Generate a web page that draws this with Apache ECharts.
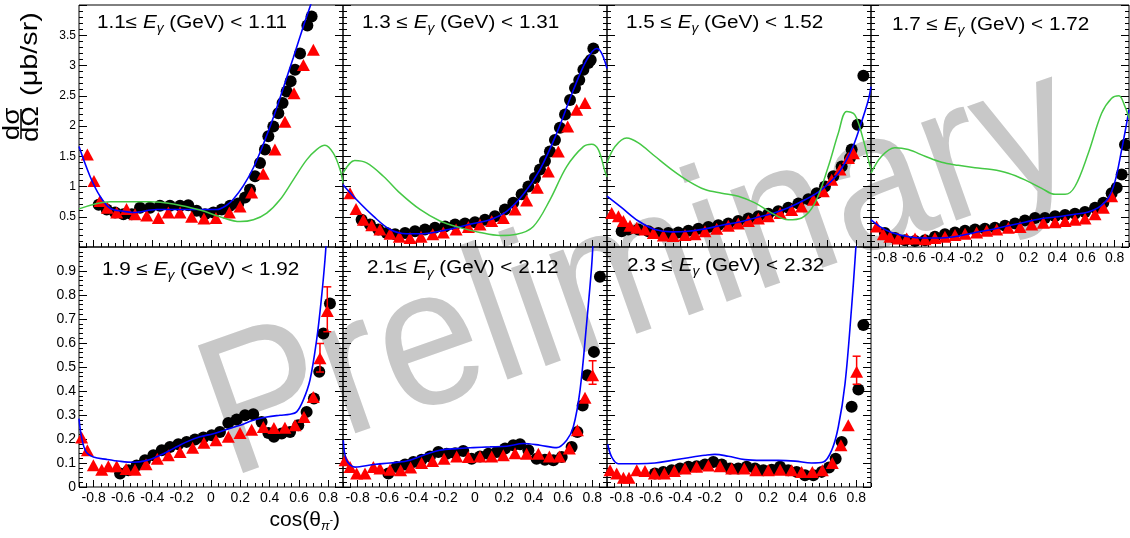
<!DOCTYPE html>
<html>
<head>
<meta charset="utf-8">
<script src="https://cdn.jsdelivr.net/npm/echarts@6.0.0/dist/echarts.min.js"></script>
<style>
html, body { margin: 0; padding: 0; background: #fff; }
#chart { width: 1130px; height: 538px; }
</style>
</head>
<body>
<div id="chart"></div>
<script>
// photon energy bins, one per pad
const eLow = ['1.1', '1.3', '1.5', '1.7', '1.9', '2.1', '2.3'];
const eHigh = ['1.11', '1.31', '1.52', '1.72', '1.92', '2.12', '2.32'];
const eSep = ['≤ ', ' ≤ ', ' ≤ ', ' ≤ ', ' ≤ ', '≤ ', ' ≤ '];

const xTicks = [-0.8, -0.6, -0.4, -0.2, 0, 0.2, 0.4, 0.6, 0.8];

// pad 1.1 GeV
const circ11 = [[-0.766,0.70],[-0.711,0.62],[-0.654,0.57],[-0.597,0.54],[-0.540,0.54],[-0.484,0.65],[-0.416,0.65],[-0.348,0.68],[-0.280,0.68],[-0.211,0.68],[-0.155,0.69],[-0.098,0.60],[-0.041,0.54],[0.016,0.57],[0.073,0.62],[0.130,0.68],[0.186,0.72],[0.232,0.82],[0.266,0.95],[0.300,1.17],[0.334,1.39],[0.368,1.61],[0.391,1.83],[0.425,1.99],[0.459,2.21],[0.488,2.38],[0.516,2.57],[0.543,2.74],[0.573,2.93],[0.607,3.20],[0.657,3.66],[0.686,3.81]];
const tri11 = [[-0.843,1.53],[-0.798,1.09],[-0.757,0.76],[-0.707,0.65],[-0.643,0.57],[-0.576,0.63],[-0.518,0.54],[-0.438,0.52],[-0.359,0.48],[-0.291,0.57],[-0.211,0.57],[-0.132,0.50],[-0.048,0.47],[0.034,0.48],[0.125,0.57],[0.198,0.67],[0.277,0.90],[0.356,1.21],[0.436,1.61],[0.504,2.07],[0.566,2.54],[0.630,3.01],[0.698,3.26]];
const blue11 = [[-0.9,1.66],[-0.825,1.17],[-0.757,0.84],[-0.688,0.64],[-0.598,0.59],[-0.530,0.57],[-0.370,0.62],[-0.189,0.62],[0.039,0.62],[0.107,0.69],[0.152,0.79],[0.220,1.01],[0.289,1.31],[0.357,1.70],[0.425,2.14],[0.493,2.63],[0.561,3.13],[0.630,3.65],[0.675,3.97],[0.72,4.3]];
const green11 = [[-0.9,0.63],[-0.688,0.75],[-0.416,0.75],[-0.257,0.71],[-0.075,0.61],[0.061,0.50],[0.198,0.42],[0.289,0.45],[0.380,0.56],[0.470,0.78],[0.561,1.11],[0.652,1.44],[0.720,1.61],[0.777,1.68],[0.834,1.55],[0.880,1.28],[0.9,1.06]];

// pad 1.3 GeV
const circ12 = [[-0.773,0.45],[-0.716,0.37],[-0.659,0.29],[-0.602,0.23],[-0.545,0.21],[-0.477,0.23],[-0.409,0.26],[-0.341,0.29],[-0.273,0.32],[-0.204,0.34],[-0.136,0.37],[-0.068,0.39],[0.000,0.41],[0.068,0.45],[0.136,0.51],[0.204,0.62],[0.261,0.73],[0.318,0.87],[0.364,1.00],[0.409,1.14],[0.443,1.28],[0.477,1.42],[0.511,1.58],[0.545,1.77],[0.579,1.97],[0.614,2.19],[0.648,2.43],[0.682,2.63],[0.711,2.76],[0.739,2.93],[0.773,3.04],[0.789,3.09],[0.807,3.28]];
const tri12 = [[-0.852,0.89],[-0.811,0.63],[-0.761,0.45],[-0.704,0.36],[-0.648,0.29],[-0.579,0.22],[-0.516,0.17],[-0.443,0.15],[-0.368,0.17],[-0.288,0.21],[-0.216,0.24],[-0.129,0.29],[-0.045,0.33],[0.034,0.37],[0.114,0.43],[0.193,0.48],[0.273,0.62],[0.352,0.77],[0.425,0.98],[0.500,1.25],[0.568,1.58],[0.632,1.99],[0.693,2.27],[0.750,2.38]];
const blue12 = [[-0.9,1.03],[-0.807,0.78],[-0.693,0.51],[-0.579,0.29],[-0.466,0.22],[-0.352,0.22],[-0.239,0.26],[-0.125,0.32],[-0.011,0.39],[0.102,0.45],[0.216,0.59],[0.330,0.87],[0.443,1.28],[0.557,1.88],[0.670,2.59],[0.761,3.09],[0.830,3.28],[0.864,3.20],[0.9,2.95]];
const green12 = [[-0.9,1.22],[-0.82,1.43],[-0.739,1.39],[-0.625,1.17],[-0.511,0.89],[-0.375,0.62],[-0.239,0.43],[-0.102,0.32],[0.034,0.24],[0.170,0.19],[0.284,0.21],[0.398,0.34],[0.511,0.78],[0.625,1.33],[0.739,1.66],[0.795,1.70],[0.841,1.61],[0.886,1.25],[0.9,1.16]];

// pad 1.5 GeV
const circ13 = [[-0.800,0.26],[-0.755,0.29],[-0.686,0.29],[-0.618,0.26],[-0.550,0.23],[-0.482,0.23],[-0.414,0.24],[-0.345,0.27],[-0.277,0.30],[-0.209,0.33],[-0.141,0.36],[-0.073,0.39],[-0.005,0.43],[0.064,0.47],[0.132,0.51],[0.200,0.55],[0.268,0.59],[0.336,0.65],[0.405,0.72],[0.473,0.79],[0.530,0.89],[0.586,1.00],[0.643,1.17],[0.700,1.33],[0.757,1.47],[0.768,1.61],[0.809,2.02],[0.848,2.83]];
const tri13 = [[-0.868,0.56],[-0.822,0.51],[-0.788,0.43],[-0.743,0.35],[-0.697,0.32],[-0.641,0.29],[-0.584,0.23],[-0.516,0.19],[-0.448,0.18],[-0.368,0.20],[-0.300,0.21],[-0.232,0.26],[-0.152,0.30],[-0.073,0.35],[-0.005,0.39],[0.064,0.43],[0.132,0.47],[0.200,0.51],[0.280,0.56],[0.359,0.61],[0.427,0.67],[0.507,0.78],[0.575,0.92],[0.632,1.11],[0.689,1.28],[0.746,1.47],[0.780,1.55]];
const blue13 = [[-0.9,0.84],[-0.800,0.65],[-0.686,0.43],[-0.573,0.29],[-0.459,0.25],[-0.345,0.26],[-0.232,0.30],[-0.118,0.36],[-0.005,0.41],[0.109,0.48],[0.223,0.55],[0.336,0.65],[0.450,0.78],[0.564,0.95],[0.677,1.22],[0.768,1.61],[0.825,1.99],[0.882,2.43],[0.9,2.65]];
const green13 = [[-0.9,1.39],[-0.845,1.66],[-0.766,1.80],[-0.686,1.72],[-0.573,1.50],[-0.459,1.28],[-0.345,1.09],[-0.232,0.95],[-0.118,0.89],[-0.005,0.84],[0.109,0.73],[0.223,0.56],[0.336,0.45],[0.427,0.48],[0.518,0.73],[0.609,1.33],[0.677,1.88],[0.734,2.24],[0.791,2.18],[0.848,1.77],[0.882,1.44],[0.9,1.28]];

// pad 1.7 GeV
const circ14 = [[-0.803,0.23],[-0.733,0.15],[-0.663,0.11],[-0.593,0.10],[-0.523,0.11],[-0.454,0.17],[-0.384,0.21],[-0.314,0.24],[-0.244,0.27],[-0.174,0.29],[-0.105,0.30],[-0.035,0.32],[0.035,0.35],[0.105,0.39],[0.174,0.44],[0.244,0.48],[0.314,0.48],[0.384,0.51],[0.454,0.53],[0.523,0.55],[0.593,0.58],[0.663,0.65],[0.721,0.73],[0.779,0.89],[0.814,0.98],[0.849,1.20],[0.872,1.69]];
const tri14 = [[-0.861,0.34],[-0.814,0.21],[-0.768,0.17],[-0.710,0.14],[-0.651,0.14],[-0.593,0.14],[-0.523,0.13],[-0.454,0.15],[-0.384,0.17],[-0.314,0.20],[-0.244,0.22],[-0.163,0.24],[-0.093,0.27],[-0.023,0.29],[0.058,0.32],[0.140,0.33],[0.221,0.37],[0.302,0.40],[0.384,0.41],[0.454,0.43],[0.523,0.45],[0.593,0.47],[0.663,0.54],[0.721,0.65],[0.779,0.84]];
const blue14 = [[-0.9,0.45],[-0.826,0.32],[-0.756,0.24],[-0.640,0.17],[-0.523,0.15],[-0.407,0.15],[-0.291,0.18],[-0.174,0.24],[-0.058,0.29],[0.058,0.35],[0.174,0.41],[0.291,0.47],[0.407,0.50],[0.523,0.54],[0.616,0.58],[0.686,0.65],[0.756,0.81],[0.802,1.08],[0.849,1.61],[0.884,2.05],[0.9,2.27]];
const green14 = [[-0.9,1.22],[-0.826,1.50],[-0.733,1.64],[-0.640,1.61],[-0.523,1.50],[-0.407,1.40],[-0.291,1.35],[-0.174,1.31],[-0.058,1.28],[0.058,1.22],[0.174,1.11],[0.291,0.97],[0.384,0.87],[0.454,0.87],[0.523,1.00],[0.616,1.55],[0.709,2.21],[0.779,2.46],[0.830,2.50],[0.872,2.32],[0.9,2.13]];

// pad 1.9 GeV
const circ21 = [[-0.620,0.056],[-0.563,0.070],[-0.507,0.090],[-0.450,0.111],[-0.393,0.132],[-0.336,0.153],[-0.280,0.167],[-0.223,0.178],[-0.166,0.188],[-0.109,0.198],[-0.052,0.206],[0.005,0.216],[0.061,0.229],[0.118,0.267],[0.175,0.281],[0.232,0.299],[0.288,0.303],[0.345,0.271],[0.391,0.225],[0.429,0.209],[0.482,0.223],[0.539,0.229],[0.595,0.257],[0.652,0.313],[0.702,0.369],[0.738,0.480],[0.766,0.640],[0.811,0.765]];
const tri21 = [[-0.882,0.206],[-0.843,0.153],[-0.802,0.091],[-0.745,0.072],[-0.700,0.086],[-0.643,0.086],[-0.579,0.075],[-0.518,0.072],[-0.443,0.095],[-0.366,0.118],[-0.291,0.132],[-0.211,0.146],[-0.125,0.164],[-0.048,0.184],[0.034,0.195],[0.118,0.209],[0.198,0.225],[0.277,0.239],[0.357,0.250],[0.429,0.246],[0.504,0.247],[0.573,0.257],[0.634,0.292],[0.697,0.375],[0.743,0.536],[0.793,0.733]];
const err21 = [[0.743,0.479,0.598],[0.793,0.647,0.834]];
const blue21 = [[-0.9,0.285],[-0.882,0.206],[-0.852,0.146],[-0.802,0.125],[-0.711,0.115],[-0.620,0.107],[-0.530,0.103],[-0.438,0.111],[-0.348,0.132],[-0.257,0.160],[-0.166,0.188],[-0.075,0.209],[0.016,0.222],[0.107,0.240],[0.198,0.257],[0.288,0.278],[0.380,0.292],[0.470,0.299],[0.539,0.303],[0.584,0.313],[0.629,0.362],[0.675,0.446],[0.720,0.612],[0.754,0.793],[0.777,0.946],[0.789,1.05]];

// pad 2.1 GeV
const circ22 = [[-0.591,0.056],[-0.534,0.083],[-0.477,0.094],[-0.420,0.104],[-0.364,0.114],[-0.307,0.127],[-0.250,0.146],[-0.193,0.139],[-0.136,0.141],[-0.080,0.150],[-0.023,0.118],[0.034,0.127],[0.091,0.139],[0.148,0.146],[0.205,0.160],[0.261,0.174],[0.307,0.178],[0.364,0.153],[0.420,0.118],[0.477,0.114],[0.534,0.111],[0.591,0.125],[0.659,0.167],[0.698,0.229],[0.734,0.340],[0.766,0.466],[0.811,0.563],[0.852,0.876]];
const tri22 = [[-0.886,0.111],[-0.852,0.083],[-0.807,0.056],[-0.750,0.056],[-0.693,0.083],[-0.648,0.077],[-0.579,0.072],[-0.507,0.070],[-0.439,0.081],[-0.364,0.100],[-0.289,0.108],[-0.211,0.118],[-0.125,0.127],[-0.045,0.125],[0.034,0.127],[0.114,0.127],[0.193,0.132],[0.273,0.141],[0.352,0.139],[0.432,0.139],[0.507,0.127],[0.575,0.127],[0.643,0.160],[0.698,0.236],[0.750,0.372],[0.802,0.466]];
const err22 = [[0.802,0.428,0.526]];
const blue22 = [[-0.898,0.195],[-0.875,0.111],[-0.818,0.083],[-0.693,0.094],[-0.579,0.100],[-0.466,0.108],[-0.352,0.132],[-0.239,0.153],[-0.125,0.160],[-0.011,0.164],[0.102,0.167],[0.216,0.170],[0.330,0.181],[0.443,0.174],[0.557,0.164],[0.625,0.195],[0.670,0.250],[0.716,0.403],[0.761,0.681],[0.795,0.918],[0.807,1.05]];

// pad 2.3 GeV
const circ23 = [[-0.573,0.056],[-0.516,0.063],[-0.459,0.070],[-0.402,0.077],[-0.345,0.084],[-0.289,0.086],[-0.232,0.094],[-0.175,0.104],[-0.118,0.094],[-0.061,0.077],[-0.005,0.077],[0.052,0.084],[0.109,0.077],[0.166,0.070],[0.223,0.072],[0.280,0.084],[0.336,0.070],[0.393,0.063],[0.450,0.049],[0.507,0.049],[0.564,0.063],[0.614,0.081],[0.659,0.118],[0.700,0.188],[0.768,0.334],[0.814,0.406],[0.848,0.675]];
const tri23 = [[-0.879,0.070],[-0.834,0.056],[-0.788,0.039],[-0.750,0.039],[-0.697,0.070],[-0.641,0.067],[-0.577,0.056],[-0.509,0.056],[-0.441,0.067],[-0.368,0.077],[-0.289,0.084],[-0.209,0.090],[-0.129,0.086],[-0.050,0.077],[0.036,0.077],[0.114,0.070],[0.200,0.070],[0.280,0.072],[0.359,0.070],[0.427,0.063],[0.500,0.063],[0.568,0.070],[0.636,0.100],[0.695,0.174],[0.745,0.257],[0.802,0.480]];
const err23 = [[0.802,0.428,0.545]];
const blue23 = [[-0.895,0.178],[-0.868,0.125],[-0.823,0.097],[-0.686,0.097],[-0.573,0.100],[-0.459,0.111],[-0.345,0.122],[-0.232,0.132],[-0.164,0.136],[-0.073,0.128],[0.041,0.114],[0.155,0.111],[0.268,0.111],[0.382,0.108],[0.495,0.100],[0.575,0.104],[0.632,0.153],[0.677,0.250],[0.723,0.431],[0.768,0.751],[0.791,0.946],[0.802,1.05]];

const circles = [circ11, circ12, circ13, circ14, circ21, circ22, circ23];
const triangles = [tri11, tri12, tri13, tri14, tri21, tri22, tri23];
const errBars = [[], [], [], [], err21, err22, err23];
const blueCurves = [blue11, blue12, blue13, blue14, blue21, blue22, blue23];
const greenCurves = [green11, green12, green13, green14, [], [], []];

// pad layout (pixels)
const FONT = '"Liberation Sans", Arial, sans-serif';
const colLeft = [79, 343, 607, 871];
const colWidth = [264, 264, 264, 258];
const rowTop = [5, 247];
const rowHeight = [242, 240];
const titlePos = [[97, 23], [362, 23], [626, 23], [892, 25], [102, 270], [367, 268], [627, 266]];

const xMinor = [];
for (let k = -18; k <= 18; k++) xMinor.push(k / 20);

function errBarItem (params, api) {
  const x = api.value(0);
  const lo = api.coord([x, api.value(1)]);
  const hi = api.coord([x, api.value(2)]);
  const st = { stroke: '#ff0000', lineWidth: 1.5 };
  return {
    type: 'group',
    children: [
      { type: 'line', shape: { x1: lo[0], y1: lo[1], x2: hi[0], y2: hi[1] }, style: st },
      { type: 'line', shape: { x1: lo[0] - 4, y1: lo[1], x2: lo[0] + 4, y2: lo[1] }, style: st },
      { type: 'line', shape: { x1: hi[0] - 4, y1: hi[1], x2: hi[0] + 4, y2: hi[1] }, style: st }
    ]
  };
}

const grid = [];
const xAxis = [];
const yAxis = [];
const series = [];
const graphic = [];

for (let i = 0; i < 7; i++) {
  const row = i < 4 ? 0 : 1;
  const col = i < 4 ? i : i - 4;
  grid.push({
    left: colLeft[col], top: rowTop[row], width: colWidth[col], height: rowHeight[row],
    show: true, borderColor: '#000', borderWidth: 1, backgroundColor: 'transparent'
  });
  const showX = row === 1 || col === 3;
  xAxis.push({
    gridIndex: i, type: 'value', min: -0.9, max: 0.9, position: 'bottom',
    axisLine: { show: false, onZero: false }, splitLine: { show: false },
    axisTick: { inside: true, length: 7, customValues: xTicks, lineStyle: { color: '#000' } },
    axisLabel: { show: showX, customValues: xTicks, fontSize: 14, fontFamily: FONT, color: '#000', margin: 4 }
  });
  xAxis.push({
    gridIndex: i, type: 'value', min: -0.9, max: 0.9, position: 'bottom',
    axisLine: { show: false, onZero: false }, splitLine: { show: false },
    axisTick: { inside: true, length: 4, customValues: xMinor, lineStyle: { color: '#000' } },
    axisLabel: { show: false }
  });
  const yMax = row === 0 ? 4 : 1;
  const yStep = row === 0 ? 0.5 : 0.1;
  ['left', 'right'].forEach(function (pos) {
    yAxis.push({
      gridIndex: i, type: 'value', min: 0, max: yMax, interval: yStep, position: pos,
      axisLine: { show: false, onZero: false }, splitLine: { show: false },
      axisTick: { inside: true, length: 8, lineStyle: { color: '#000' } },
      minorTick: { show: true, splitNumber: 5, length: 4, lineStyle: { color: '#000' } },
      axisLabel: {
        show: pos === 'left' && col === 0,
        fontSize: row === 0 ? 12 : 14, fontFamily: FONT, color: '#000', margin: 3,
        formatter: function (v) {
          if (v >= yMax - 1e-9) return '';
          if (row === 0 && v === 0) return '';
          return String(+v.toFixed(2));
        }
      }
    });
  });
  const xi = 2 * i;
  const yi = 2 * i;
  series.push({
    type: 'scatter', xAxisIndex: xi, yAxisIndex: yi, data: circles[i],
    symbol: 'circle', symbolSize: 12, itemStyle: { color: '#000', opacity: 1 }, z: 2
  });
  if (errBars[i].length) {
    series.push({
      type: 'custom', xAxisIndex: xi, yAxisIndex: yi, data: errBars[i],
      renderItem: errBarItem, z: 3
    });
  }
  series.push({
    type: 'scatter', xAxisIndex: xi, yAxisIndex: yi, data: triangles[i],
    symbol: 'triangle', symbolSize: [13, 12], itemStyle: { color: '#ff0000', opacity: 1 }, z: 3
  });
  series.push({
    type: 'line', xAxisIndex: xi, yAxisIndex: yi, data: blueCurves[i],
    smooth: 0.35, showSymbol: false, symbol: 'none',
    lineStyle: { color: '#0000ff', width: 1.6 }, z: 4
  });
  if (greenCurves[i].length) {
    series.push({
      type: 'line', xAxisIndex: xi, yAxisIndex: yi, data: greenCurves[i],
      smooth: 0.35, showSymbol: false, symbol: 'none',
      lineStyle: { color: '#45c845', width: 1.5 }, z: 5
    });
  }
  graphic.push({
    type: 'text', x: titlePos[i][0], y: titlePos[i][1], scaleX: 1.15, z: 20,
    style: {
      text: '{n|' + eLow[i] + eSep[i] + '}{e|E}{s|γ}{n| (GeV) < ' + eHigh[i] + '}',
      verticalAlign: 'middle',
      rich: {
        n: { fontSize: 18, fontFamily: FONT, fill: '#000', lineHeight: 24 },
        e: { fontSize: 18, fontFamily: FONT, fontStyle: 'italic', fill: '#000', lineHeight: 24 },
        s: { fontSize: 12, fontFamily: FONT, fontStyle: 'italic', fill: '#000', lineHeight: 12, verticalAlign: 'bottom' }
      }
    }
  });
}

// watermark
graphic.unshift({
  type: 'text', x: 640, y: 275, rotation: 19.5 * Math.PI / 180, scaleY: 1.08, z: -1, silent: true,
  style: {
    text: 'Preliminary', fontSize: 182, fontFamily: FONT, fill: '#c8c8c8',
    align: 'center', verticalAlign: 'middle'
  }
});

// y axis title, written bottom to top
graphic.push({
  type: 'group', x: 21, y: 124, rotation: Math.PI / 2, z: 20,
  children: [
    { type: 'text', x: 0, y: -9, scaleX: 1.15, style: { text: 'dσ', fontSize: 24, fontFamily: FONT, fill: '#000', align: 'center', verticalAlign: 'middle' } },
    { type: 'line', shape: { x1: -15, y1: 0, x2: 15, y2: 0 }, style: { stroke: '#000', lineWidth: 1.5 } },
    { type: 'text', x: 0, y: 10, scaleX: 1.15, style: { text: 'dΩ', fontSize: 24, fontFamily: FONT, fill: '#000', align: 'center', verticalAlign: 'middle' } },
    { type: 'text', x: 70, y: 9, scaleX: 1.2, style: { text: '(μb/sr)', fontSize: 24, fontFamily: FONT, fill: '#000', align: 'center', verticalAlign: 'middle' } }
  ]
});

// x axis title
graphic.push({
  type: 'text', x: 340, y: 520, z: 20,
  style: {
    text: '{n|cos(θ}{s|π}{p|-}{n|)}',
    align: 'right', verticalAlign: 'middle',
    rich: {
      n: { fontSize: 21, fontFamily: FONT, fill: '#000', lineHeight: 26 },
      s: { fontSize: 13, fontFamily: FONT, fontStyle: 'italic', fill: '#000', lineHeight: 13, verticalAlign: 'bottom' },
      p: { fontSize: 10, fontFamily: FONT, fill: '#000', lineHeight: 26, verticalAlign: 'middle' }
    }
  }
});

const myChart = echarts.init(document.getElementById('chart'));
myChart.setOption({
  animation: false,
  backgroundColor: '#fff',
  grid: grid,
  xAxis: xAxis,
  yAxis: yAxis,
  series: series,
  graphic: graphic
});
</script>
</body>
</html>
